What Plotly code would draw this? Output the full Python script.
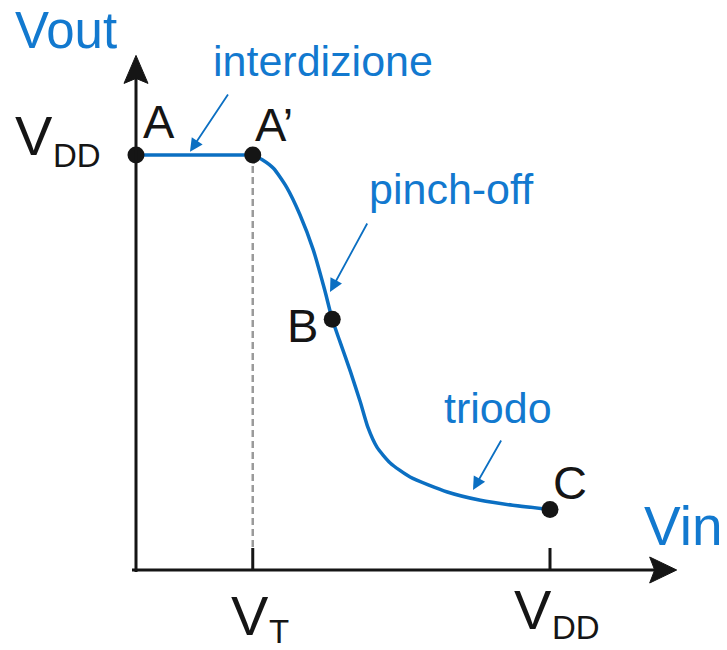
import plotly.graph_objects as go

# ---------------- data (Vin, Vout in volts, VDD = 5) ----------------
vin_curve = [0.0, 1.41, 1.53, 1.66, 1.82, 1.98, 2.14, 2.28, 2.37, 2.46, 2.59,
             2.71, 2.80, 2.91, 3.07, 3.31, 3.76, 4.16, 4.55, 5.0]
vout_curve = [5.0, 5.0, 4.94, 4.84, 4.61, 4.28, 3.86, 3.37, 3.02, 2.76, 2.39,
              2.02, 1.72, 1.48, 1.29, 1.12, 0.94, 0.84, 0.78, 0.73]

point_names = ["A", "A’", "B", "C"]
point_vin = [0.0, 1.41, 2.37, 5.0]
point_vout = [5.0, 5.0, 3.02, 0.73]

tick_vals = [1.41, 5.0]          # VT, VDD on the Vin axis
vdd = 5.0
vt = 1.41

BLUE_TXT = "#1279cf"
BLUE_LINE = "#0b6fc2"
BLACK = "#151515"
FONT = "Liberation Sans, Arial, sans-serif"

# axis scale (pixels per data unit) -> ranges
px_per_x = 82.8
px_per_y = 83.0
x0_px, y0_px = 136, 570
W, H = 727, 650
xr = [-x0_px / px_per_x, (W - x0_px) / px_per_x]
yr = [(y0_px - H) / px_per_y, y0_px / px_per_y]

def dx(p):  # pixel length -> x data
    return p / px_per_x

def dy(p):
    return p / px_per_y

fig = go.Figure()

# dashed guide at VT
fig.add_trace(go.Scatter(x=[vt, vt], y=[vdd, dy(22)], mode="lines",
                         line=dict(color="#9a9a9a", width=2.5, dash="7px,4px"),
                         hoverinfo="skip", showlegend=False))

# transfer curve: flat part (A -> A') and the falling part (A' -> C)
fig.add_trace(go.Scatter(x=vin_curve[:2], y=vout_curve[:2], mode="lines",
                         line=dict(color=BLUE_LINE, width=3.5),
                         hoverinfo="skip", showlegend=False))
fig.add_trace(go.Scatter(x=vin_curve[1:], y=vout_curve[1:], mode="lines",
                         line=dict(color=BLUE_LINE, width=3.5, shape="spline", smoothing=0.6),
                         hoverinfo="skip", showlegend=False))

# axes (black lines)
x_end = 6.53
y_end = 6.20
shapes = []
shapes.append(dict(type="line", xref="x", yref="y", x0=-dx(4), y0=0, x1=x_end - dx(20), y1=0,
                   line=dict(color=BLACK, width=3)))
shapes.append(dict(type="line", xref="x", yref="y", x0=0, y0=-dy(2), x1=0, y1=y_end - dy(20),
                   line=dict(color=BLACK, width=3)))
# arrowheads
shapes.append(dict(type="path", xref="x", yref="y",
                   path=f"M {x_end},0 L {x_end - dx(27)},{dy(13)} L {x_end - dx(22)},0 L {x_end - dx(27)},{-dy(13)} Z",
                   fillcolor=BLACK, line=dict(color=BLACK, width=1)))
shapes.append(dict(type="path", xref="x", yref="y",
                   path=f"M 0,{y_end} L {dx(12)},{y_end - dy(28)} L 0,{y_end - dy(23)} L {-dx(12)},{y_end - dy(28)} Z",
                   fillcolor=BLACK, line=dict(color=BLACK, width=1)))
# ticks
for tv in tick_vals:
    shapes.append(dict(type="line", xref="x", yref="y", x0=tv, y0=0, x1=tv, y1=dy(22),
                       line=dict(color=BLACK, width=3)))

# key points
fig.add_trace(go.Scatter(x=point_vin, y=point_vout, mode="markers",
                         marker=dict(color=BLACK, size=17),
                         hoverinfo="skip", showlegend=False))

annotations = []

def txt(x, y, s, size, color=BLACK):
    annotations.append(dict(x=x, y=y, xref="x", yref="y", text=s, showarrow=False,
                            font=dict(family=FONT, size=size, color=color),
                            xanchor="center", yanchor="middle"))

# point labels
txt(0.278, 5.40, point_names[0], 47)
txt(1.667, 5.37, point_names[1], 47)
txt(2.005, 2.95, point_names[2], 47)
txt(5.242, 1.06, point_names[3], 47)

# axis titles
txt(-0.845, 6.50, "Vout", 51, BLUE_TXT)
txt(6.618, 0.53, "Vin", 55, BLUE_TXT)

# VDD on Vout axis
txt(-1.226, 5.23, "V", 56)
txt(-0.707, 5.0, "DD", 33)
# tick labels on Vin axis
txt(tick_vals[0] - 0.036, -0.554, "V", 56)
txt(tick_vals[0] + 0.317, -0.735, "T", 33)
txt(tick_vals[1] - 0.211, -0.47, "V", 56)
txt(tick_vals[1] + 0.314, -0.693, "DD", 33)

# region labels
txt(2.258, 6.13, "interdizione", 43, BLUE_TXT)
txt(3.81, 4.59, "pinch-off", 43, BLUE_TXT)
txt(4.366, 1.95, "triodo", 43, BLUE_TXT)

# pointer arrows (tip, tail)
pointers = [((0.652, 5.04), (1.123, 5.747)),
            ((2.343, 3.35), (2.802, 4.193)),
            ((4.07, 0.964), (4.42, 1.578))]
for (tx, ty), (ax, ay) in pointers:
    annotations.append(dict(x=tx, y=ty, ax=ax, ay=ay, xref="x", yref="y",
                            axref="x", ayref="y", text="", showarrow=True,
                            arrowhead=2, arrowsize=1.45, arrowwidth=1.8,
                            arrowcolor=BLUE_LINE, standoff=0, startstandoff=0))

fig.update_layout(
    width=W, height=H,
    margin=dict(l=0, r=0, t=0, b=0),
    paper_bgcolor="white", plot_bgcolor="white",
    xaxis=dict(range=xr, visible=False, fixedrange=True),
    yaxis=dict(range=yr, visible=False, fixedrange=True),
    shapes=shapes, annotations=annotations,
    showlegend=False,
)

fig.write_html("out.html", config={"displayModeBar": False},
               post_script="document.body.style.margin='0';document.body.style.overflow='hidden';")
